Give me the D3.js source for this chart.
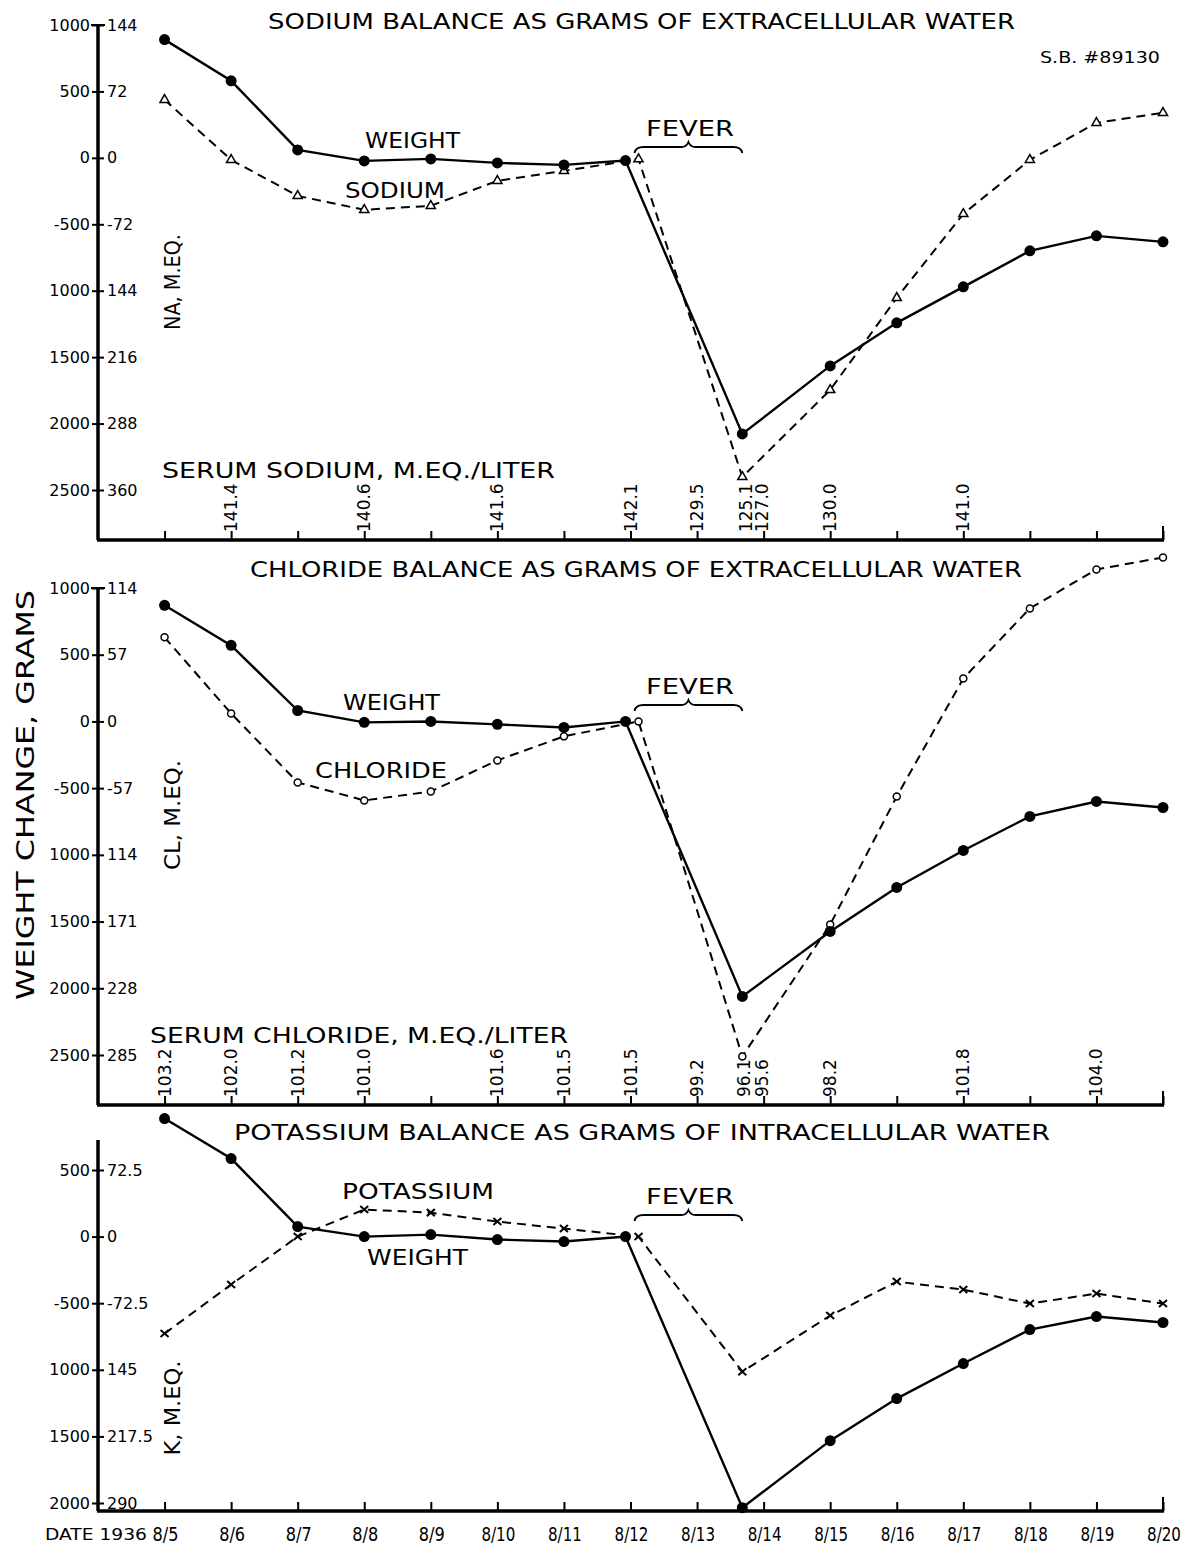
<!DOCTYPE html>
<html>
<head>
<meta charset="utf-8">
<script src="https://cdn.jsdelivr.net/npm/d3@7"></script>
<style>
  body { margin: 0; background: #fff; }
  svg { font-family: "DejaVu Sans", "Liberation Sans", sans-serif; }
  .tick text { font-size: 16px; fill: #000; font-family: "DejaVu Sans", sans-serif; }
  .tick line { stroke: #000; stroke-width: 2; }
  .domain { display: none; }
</style>
</head>
<body>
<svg id="chart" width="1201" height="1546"></svg>
<script>
// days of august 1936, the fever low point lies between 8/13 and 8/14
const days = [5, 6, 7, 8, 9, 10, 11, 12, 13.68, 15, 16, 17, 18, 19, 20]
const dateTicks = [5, 6, 7, 8, 9, 10, 11, 12, 13, 14, 15, 16, 17, 18, 19, 20]

// weight change, grams
const weightNa = [890, 580, 60, -23, -8, -38, -53, -20, -2078, -1566, -1242, -971, -700, -587, -632]
const weightCl = [870, 570, 82, -7, 0, -22, -45, 0, -2061, -1574, -1244, -967, -712, -600, -645]
const weightK  = [886, 586, 75, 0, 15, -22, -37, 0, -2035, -1532, -1216, -953, -698, -600, -645]

// electrolyte balance expressed as grams of water
const sodium    = [437, -15, -286, -391, -361, -173, -98, -10, -2402, -1747, -1054, -422, -15, 264, 339]
const chloride  = [630, 60, -457, -592, -525, -292, -112, 0, -2511, -1522, -562, 322, 847, 1139, 1229]
const potassium = [-728, -360, 0, 203, 180, 113, 60, 0, -1014, -593, -338, -398, -503, -428, -503]

// left axis ticks (grams) and their labels, right axis labels (m.eq.)
const gramTicks = [1000, 500, 0, -500, -1000, -1500, -2000, -2500]
const gramLabels = ["1000", "500", "0", "-500", "1000", "1500", "2000", "2500"]
const naLabels = ["144", "72", "0", "-72", "144", "216", "288", "360"]
const clLabels = ["114", "57", "0", "-57", "114", "171", "228", "285"]
const kTicks = [500, 0, -500, -1000, -1500, -2000]
const kGramLabels = ["500", "0", "-500", "1000", "1500", "2000"]
const kLabels = ["72.5", "0", "-72.5", "145", "217.5", "290"]

// serum values written along the bottom of the first two panels
const serumNaDays = [6, 8, 10, 12, 13, 13.68, 14, 15, 17]
const serumNa = ["141.4", "140.6", "141.6", "142.1", "129.5", "125.1", "127.0", "130.0", "141.0"]
const serumClDays = [5, 6, 7, 8, 10, 11, 12, 13, 13.68, 14, 15, 17, 19]
const serumCl = ["103.2", "102.0", "101.2", "101.0", "101.6", "101.5", "101.5", "99.2", "96.1", "95.6", "98.2", "101.8", "104.0"]

const svg = d3.select("#chart")
const x = d3.scaleLinear().domain([4, 20]).range([98, 1163])

function text(g, str, px, py, size, opts) {
  opts = opts || {}
  const t = g.append("text")
    .attr("x", px).attr("y", py)
    .attr("font-size", size)
    .attr("fill", "#000")
    .attr("text-anchor", opts.anchor || "start")
    .text(str)
  if (opts.len) t.attr("textLength", opts.len).attr("lengthAdjust", "spacingAndGlyphs")
  if (opts.rotate) t.attr("transform", `rotate(-90,${px},${py})`)
  return t
}

function marker(g, kind, px, py) {
  if (kind == "dot") {
    g.append("circle").attr("cx", px).attr("cy", py).attr("r", 5.5).attr("fill", "#000")
  } else if (kind == "ring") {
    g.append("circle").attr("cx", px).attr("cy", py).attr("r", 3.5)
      .attr("fill", "#fff").attr("stroke", "#000").attr("stroke-width", 1.5)
  } else if (kind == "tri") {
    g.append("path").attr("d", d3.symbol(d3.symbolTriangle, 36)())
      .attr("transform", `translate(${px},${py})`)
      .attr("fill", "#fff").attr("stroke", "#000").attr("stroke-width", 1.5)
  } else {
    g.append("path").attr("d", `M-4,-3.5L4,3.5M-4,3.5L4,-3.5`)
      .attr("transform", `translate(${px},${py})`)
      .attr("stroke", "#000").attr("stroke-width", 2)
  }
}

function series(g, y, values, dashed, kind, shift) {
  const pts = days.map((d, i) => [x(d) + (i == 7 ? shift : 0), y(values[i])])
  g.append("path")
    .attr("d", d3.line()(pts))
    .attr("fill", "none").attr("stroke", "#000")
    .attr("stroke-width", dashed ? 2 : 2.4)
    .attr("stroke-dasharray", dashed ? "9,6" : null)
  pts.forEach(p => marker(g, kind, p[0], p[1]))
}

function brace(g, x0, x1, by) {
  const m = (x0 + x1) / 2
  g.append("path")
    .attr("d", `M${x0},${by + 6} Q${x0 + 1},${by} ${x0 + 9},${by} L${m - 7},${by} Q${m - 2},${by} ${m},${by - 5}` +
               ` Q${m + 2},${by} ${m + 7},${by} L${x1 - 9},${by} Q${x1 - 1},${by} ${x1},${by + 6}`)
    .attr("fill", "none").attr("stroke", "#000").attr("stroke-width", 1.8)
}

function panel(p) {
  const g = svg.append("g")
  const y = d3.scaleLinear().domain(p.domain).range(p.range)

  // left axis: grams on the left, m.eq. on the right
  g.append("line").attr("x1", 98).attr("x2", 98).attr("y1", p.axisTop).attr("y2", p.axisBottom)
    .attr("stroke", "#000").attr("stroke-width", 3.5)
  if (p.cap) g.append("line").attr("x1", 91).attr("x2", 105).attr("y1", p.axisTop).attr("y2", p.axisTop)
    .attr("stroke", "#000").attr("stroke-width", 2)

  g.append("g").attr("transform", "translate(98,0)")
    .call(d3.axisLeft(y).tickValues(p.ticks).tickSize(6).tickPadding(2).tickSizeOuter(0)
      .tickFormat((d, i) => p.gramLabels[i]))
  g.append("g").attr("transform", "translate(98,0)")
    .call(d3.axisRight(y).tickValues(p.ticks).tickSize(6).tickPadding(3).tickSizeOuter(0)
      .tickFormat((d, i) => p.meqLabels[i]))

  // bottom axis with a tick on every day
  g.append("line").attr("x1", 97).attr("x2", 1164).attr("y1", p.axisBottom).attr("y2", p.axisBottom)
    .attr("stroke", "#000").attr("stroke-width", 3.5)
  g.append("g").attr("transform", `translate(0,${p.axisBottom})`)
    .call(d3.axisTop(x).tickValues(dateTicks).tickSize(9).tickFormat(""))
  g.append("line").attr("x1", 1163).attr("x2", 1163).attr("y1", p.axisBottom).attr("y2", p.axisBottom - 14)
    .attr("stroke", "#000").attr("stroke-width", 2)

  // serum values
  if (p.serum) {
    p.serumDays.forEach((d, i) => {
      text(g, p.serum[i], x(d) + (p.serumShift[i] || 0) + 6, p.axisBottom - 8, 17, { rotate: true })
    })
    text(g, p.serumTitle, p.serumX, p.serumY, 21, { len: p.serumLen })
  }

  series(g, y, p.other, true, p.kind, 8)
  series(g, y, p.weight, false, "dot", -5)

  text(g, p.title, p.titleX, p.titleY, 21, { len: p.titleLen })
  text(g, "FEVER", 690, p.feverY, 21, { anchor: "middle", len: 88 })
  brace(g, x(12) + 4, x(13.68), p.feverY + 11)
  p.labels.forEach(l => text(g, l[0], l[1], l[2], 21, { len: l[3] }))
  text(g, p.meq, 180, p.meqY, 21, { rotate: true, anchor: "middle", len: p.meqLen })
  return g
}

panel({
  domain: [1000, -2500], range: [25, 490], axisTop: 25, axisBottom: 540, cap: true,
  ticks: gramTicks, gramLabels: gramLabels, meqLabels: naLabels,
  weight: weightNa, other: sodium, kind: "tri",
  serum: serumNa, serumDays: serumNaDays, serumShift: { 5: 4, 6: -2 },
  serumTitle: "SERUM SODIUM, M.EQ./LITER", serumX: 162, serumY: 478, serumLen: 393,
  title: "SODIUM BALANCE AS GRAMS OF EXTRACELLULAR WATER", titleX: 268, titleY: 29, titleLen: 747,
  feverY: 136,
  labels: [["WEIGHT", 365, 148, 95], ["SODIUM", 345, 198, 100]],
  meq: "NA, M.EQ.", meqY: 282, meqLen: 96
})

panel({
  domain: [1000, -2500], range: [588, 1055], axisTop: 588, axisBottom: 1105, cap: true,
  ticks: gramTicks, gramLabels: gramLabels, meqLabels: clLabels,
  weight: weightCl, other: chloride, kind: "ring",
  serum: serumCl, serumDays: serumClDays, serumShift: { 8: 2, 9: -2 },
  serumTitle: "SERUM CHLORIDE, M.EQ./LITER", serumX: 150, serumY: 1043, serumLen: 418,
  title: "CHLORIDE BALANCE AS GRAMS OF EXTRACELLULAR WATER", titleX: 250, titleY: 577, titleLen: 772,
  feverY: 694,
  labels: [["WEIGHT", 343, 710, 97], ["CHLORIDE", 315, 778, 132]],
  meq: "CL, M.EQ.", meqY: 815, meqLen: 110
})

const bottom = panel({
  domain: [500, -2000], range: [1170, 1503], axisTop: 1140, axisBottom: 1511, cap: false,
  ticks: kTicks, gramLabels: kGramLabels, meqLabels: kLabels,
  weight: weightK, other: potassium, kind: "cross",
  serum: null,
  title: "POTASSIUM BALANCE AS GRAMS OF INTRACELLULAR WATER", titleX: 234, titleY: 1140, titleLen: 816,
  feverY: 1204,
  labels: [["POTASSIUM", 342, 1199, 152], ["WEIGHT", 367, 1265, 101]],
  meq: "K, M.EQ.", meqY: 1408, meqLen: 95
})

// dates under the last panel
dateTicks.forEach(d => {
  text(bottom, "8/" + d, x(d) + 1, 1541, 20, { anchor: "middle", len: d < 10 ? 26 : 34 })
})
text(bottom, "DATE 1936", 45, 1540, 16, { len: 102 })

// shared labels
text(svg, "WEIGHT   CHANGE,   GRAMS", 34, 795, 25, { rotate: true, anchor: "middle", len: 410 })
text(svg, "S.B. #89130", 1040, 63, 16, { len: 120 })
</script>
</body>
</html>
